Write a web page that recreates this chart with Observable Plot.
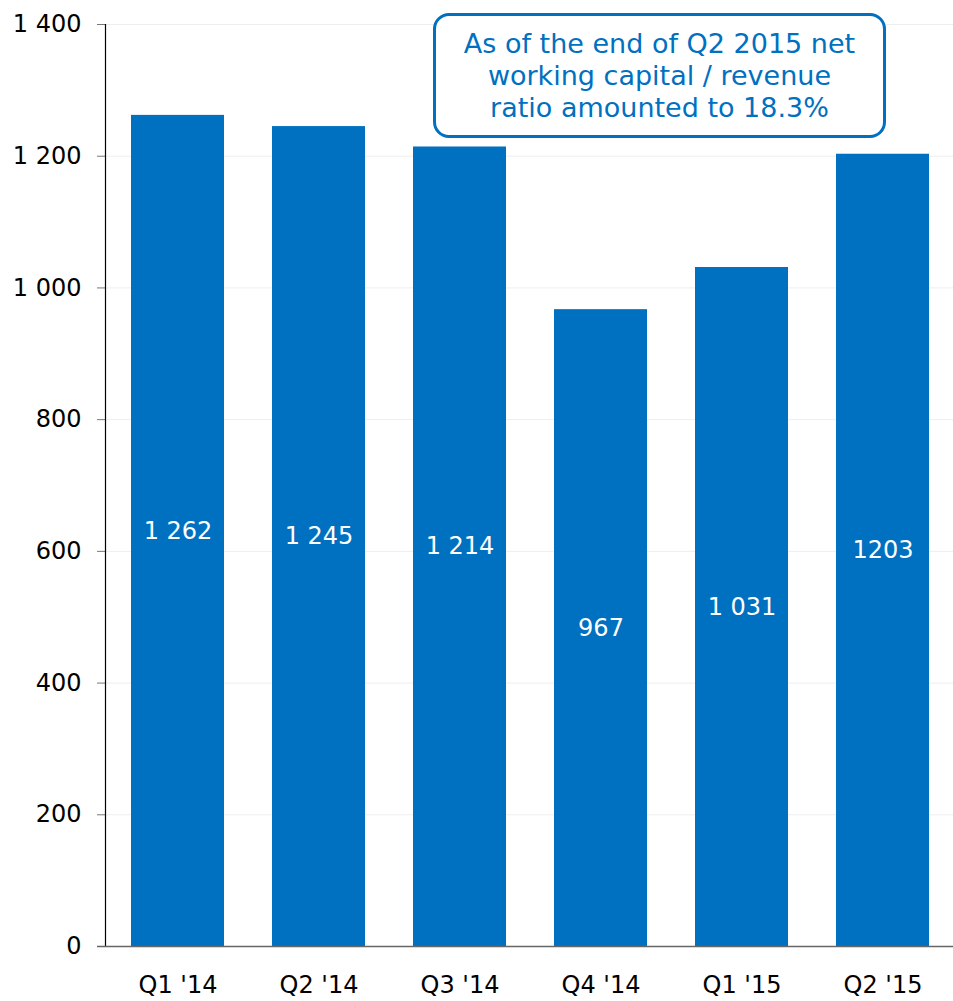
<!DOCTYPE html>
<html>
<head>
<meta charset="utf-8">
<script src="https://cdn.jsdelivr.net/npm/d3@7"></script>
<script src="https://cdn.jsdelivr.net/npm/@observablehq/plot@0.6"></script>
<style>
  html, body { margin: 0; padding: 0; background: #fff; }
  #wrap { position: relative; width: 953px; height: 1001px; font-family: "DejaVu Sans", Verdana, sans-serif; }
  #note {
    position: absolute; left: 433px; top: 13px; width: 447px; height: 119px;
    border: 3.5px solid #0070C0; border-radius: 16px; box-sizing: content-box;
    color: #0070C0; font-size: 27px; line-height: 32px; text-align: center;
    display: flex; align-items: center; justify-content: center; background: #fff;
  }
</style>
</head>
<body>
<div id="wrap"></div>
<script>
const quarters = ["Q1 '14", "Q2 '14", "Q3 '14", "Q4 '14", "Q1 '15", "Q2 '15"];
const values = [1262, 1245, 1214, 967, 1031, 1203];
const valueLabels = ["1 262", "1 245", "1 214", "967", "1 031", "1203"];
const yTicks = [0, 200, 400, 600, 800, 1000, 1200, 1400];
const noteText = "As of the end of Q2 2015 net<br>working capital / revenue<br>ratio amounted to 18.3%";

const data = quarters.map((q, i) => ({q, v: values[i], label: valueLabels[i]}));
const fmt = d3.formatLocale({thousands: " ", grouping: [3], decimal: "."}).format(",");

const chart = Plot.plot({
  width: 953,
  height: 1001,
  marginTop: 24,
  marginBottom: 55,
  marginLeft: 105,
  marginRight: -3,
  style: {fontFamily: "DejaVu Sans, Verdana, sans-serif", fontSize: "24px", color: "#000", background: "#fff", overflow: "visible"},
  x: {domain: quarters, paddingInner: 0.337, paddingOuter: 0.169, label: null},
  y: {domain: [0, 1400], label: null},
  marks: [
    Plot.gridY(yTicks.filter(d => d > 0), {stroke: "#eeeeee", strokeOpacity: 1}),
    Plot.barY(data, {x: "q", y: "v", fill: "#0070C0"}),
    Plot.text(data, {x: "q", y: d => d.v / 2, text: "label", fill: "#fff", fontSize: 24}),
    Plot.axisY({ticks: yTicks, tickFormat: fmt, tickSize: 8, tickPadding: 16, stroke: "#777", fontSize: 24, fill: "#000"}),
    Plot.axisX({tickSize: 0, tickPadding: 29, fontSize: 24, fill: "#000"}),
    Plot.frame({anchor: "left", stroke: "#000", strokeWidth: 1.2}),
    Plot.ruleY([0], {stroke: "#666", strokeWidth: 1.5, insetLeft: -8})
  ]
});
const wrap = document.getElementById("wrap");
wrap.appendChild(chart);
const note = document.createElement("div");
note.id = "note";
note.innerHTML = noteText;
wrap.appendChild(note);
</script>
</body>
</html>
